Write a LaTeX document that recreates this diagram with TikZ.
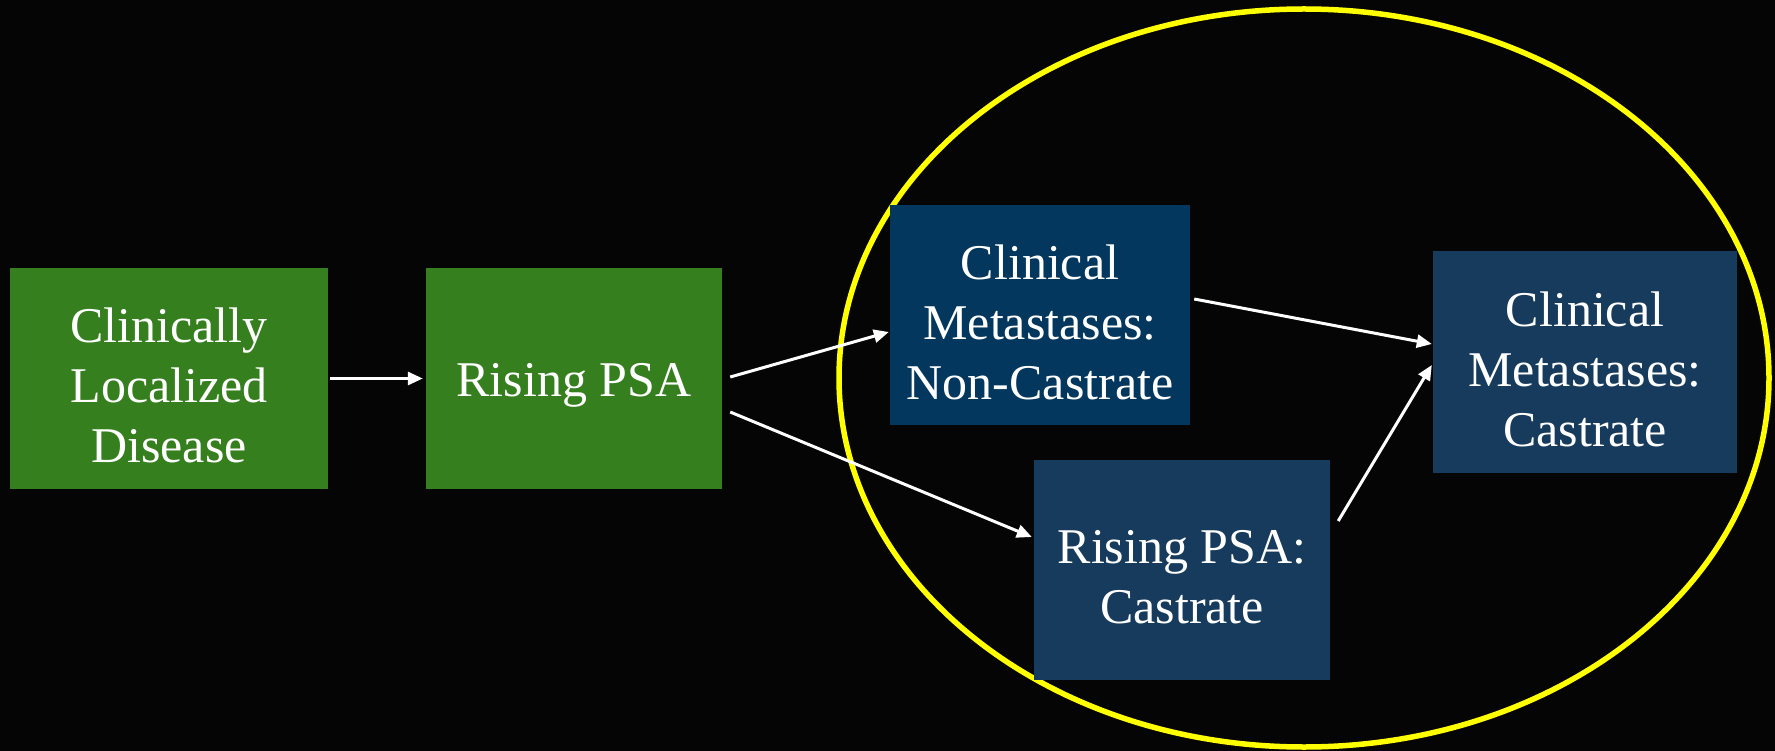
\documentclass[tikz,border=0pt]{standalone}
\usepackage{fontspec}
\setmainfont{Liberation Serif}
\usetikzlibrary{arrows.meta}
\definecolor{bg}{RGB}{5,5,5}
\definecolor{boxgreen}{RGB}{53,127,30}
\definecolor{boxblueA}{RGB}{3,55,94}
\definecolor{boxblueB}{RGB}{23,59,92}
\definecolor{ringyellow}{RGB}{255,255,0}
\tikzset{
  stagebox/.style={draw=none, inner sep=0pt},
  stagetext/.style={align=center, text=white, inner sep=0pt, yshift=-7pt,
    font=\fontsize{50}{60}\selectfont},
  flow/.style={draw=white, line width=3pt, -{Triangle[length=15pt,width=13pt]}},
}
\begin{document}
\begin{tikzpicture}[x=1pt,y=-1pt]
\fill[bg] (0,0) rectangle (1775,751);
\useasboundingbox (0,0) rectangle (1775,751);
\draw[ringyellow, line width=5.5pt] (1304,378) ellipse [x radius=465, y radius=369];
\node[stagebox, fill=boxgreen, minimum width=318pt, minimum height=221pt,
  label={[stagetext]center:Clinically\\Localized\\Disease}] (b1) at (169,378.5) {};
\node[stagebox, fill=boxgreen, minimum width=296pt, minimum height=221pt,
  label={[stagetext]center:Rising PSA}] (b2) at (574,378.5) {};
\node[stagebox, fill=boxblueA, minimum width=300pt, minimum height=220pt,
  label={[stagetext]center:Clinical\\Metastases:\\Non-Castrate}] (b3) at (1040,315) {};
\node[stagebox, fill=boxblueB, minimum width=304pt, minimum height=222pt,
  label={[stagetext]center:Clinical\\Metastases:\\Castrate}] (b4) at (1585,362) {};
\node[stagebox, fill=boxblueB, minimum width=296pt, minimum height=220pt,
  label={[stagetext]center:Rising PSA:\\Castrate}] (b5) at (1182,570) {};
\draw[flow] ([xshift=2pt]b1.east) -- ([xshift=-3pt]b2.west);
\draw[flow] ([xshift=8pt,yshift=1.5pt]b2.east) -- ([xshift=-1pt,yshift=-17pt]b3.west);
\draw[flow] ([xshift=8pt,yshift=-33.5pt]b2.east) -- ([xshift=-2pt,yshift=33pt]b5.west);
\draw[flow] ([xshift=4pt,yshift=16pt]b3.east) -- ([xshift=-1pt,yshift=18pt]b4.west);
\draw[flow] ([xshift=8pt,yshift=49pt]b5.east) -- ([xshift=-1pt,yshift=-3pt]b4.west);
\end{tikzpicture}
\end{document}
